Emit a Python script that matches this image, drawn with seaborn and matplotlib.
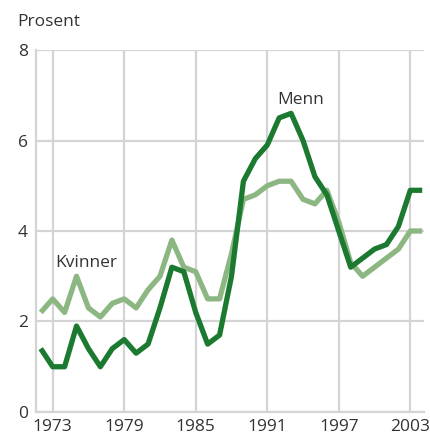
import pandas as pd
import seaborn as sns
import matplotlib.pyplot as plt
from matplotlib.ticker import MultipleLocator

# data
years = list(range(1972, 2005))
menn = [1.4, 1.0, 1.0, 1.9, 1.4, 1.0, 1.4, 1.6, 1.3, 1.5, 2.3, 3.2, 3.1, 2.2, 1.5, 1.7, 3.0,
        5.1, 5.6, 5.9, 6.5, 6.6, 6.0, 5.2, 4.8, 4.0, 3.2, 3.4, 3.6, 3.7, 4.1, 4.9, 4.9]
kvinner = [2.2, 2.5, 2.2, 3.0, 2.3, 2.1, 2.4, 2.5, 2.3, 2.7, 3.0, 3.8, 3.2, 3.1, 2.5, 2.5, 3.5,
           4.7, 4.8, 5.0, 5.1, 5.1, 4.7, 4.6, 4.9, 4.2, 3.3, 3.0, 3.2, 3.4, 3.6, 4.0, 4.0]
xtick_years = [1973, 1979, 1985, 1991, 1997, 2003]
yticks = [0, 2, 4, 6, 8]

df = pd.DataFrame({'year': years, 'Menn': menn, 'Kvinner': kvinner})

sns.set_style('white')
plt.rcParams['font.family'] = ['Open Sans', 'DejaVu Sans']

text_col = '#333333'
grid_col = '#d4d4d4'
dark = '#1c7a30'
light = '#8cb783'
fs = 12.5

fig = plt.figure(figsize=(4.31, 4.38), dpi=100)
ax = fig.add_axes([0.0835, 0.0594, 0.9003, 0.8264])

sns.lineplot(data=df, x='year', y='Kvinner', color=light, linewidth=3.8, ax=ax,
             solid_capstyle='butt', solid_joinstyle='round')
sns.lineplot(data=df, x='year', y='Menn', color=dark, linewidth=3.8, ax=ax,
             solid_capstyle='butt', solid_joinstyle='round')

ax.set_xlim(1971.6, 2004.15)
ax.set_ylim(0, 8)
ax.set_xticks(xtick_years)
ax.set_xticklabels([str(y) for y in xtick_years])
ax.xaxis.set_minor_locator(MultipleLocator(1))
ax.set_yticks(yticks)
ax.grid(True, which='major', color=grid_col, linewidth=1.6)
ax.set_axisbelow(True)

ax.tick_params(axis='x', which='major', length=0, pad=5, labelsize=fs, labelcolor=text_col)
ax.tick_params(axis='x', which='minor', direction='in', length=6, width=1.2, color=grid_col)
ax.tick_params(axis='y', length=0, pad=6, labelsize=fs, labelcolor=text_col)

for side in ['top', 'right']:
    ax.spines[side].set_visible(False)
for side in ['left', 'bottom']:
    ax.spines[side].set_color(grid_col)
    ax.spines[side].set_linewidth(1.6)

ax.set_xlabel('')
ax.set_ylabel('')

ax.text(1975.8, 3.29, 'Kvinner', color=text_col, fontsize=fs, ha='center', va='center')
ax.text(1993.8, 6.9, 'Menn', color=text_col, fontsize=fs, ha='center', va='center')
fig.text(17 / 431, 1 - 22 / 438, 'Prosent', color=text_col, fontsize=fs, ha='left', va='center')

fig.savefig('out.png', dpi=100)
